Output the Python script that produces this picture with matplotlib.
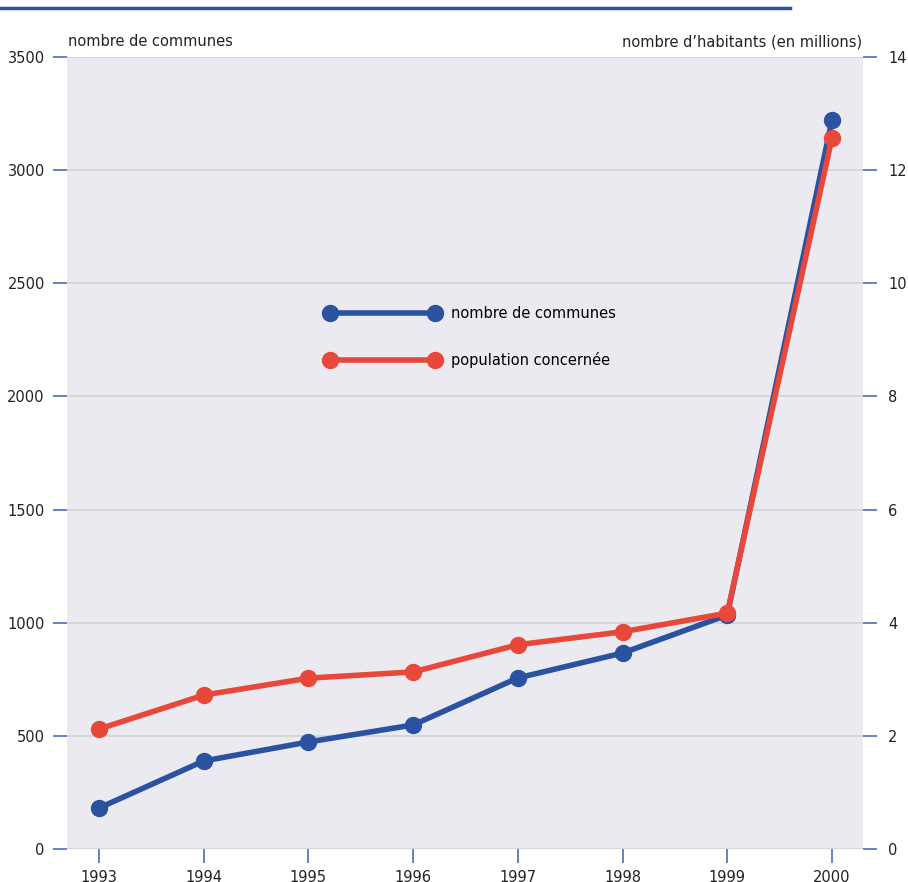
import matplotlib
matplotlib.use("Agg")
import matplotlib.pyplot as plt
from matplotlib.lines import Line2D

# data
years = [1993, 1994, 1995, 1996, 1997, 1998, 1999, 2000]
communes = [181, 389, 473, 548, 756, 866, 1034, 3221]
population = [2.12, 2.72, 3.02, 3.13, 3.61, 3.84, 4.17, 12.57]
left_ticks = [0, 500, 1000, 1500, 2000, 2500, 3000, 3500]
right_ticks = [0, 2, 4, 6, 8, 10, 12, 14]

BLUE = "#2a52a0"
RED = "#e8473a"
BG = "#ebeaf1"
GRID = "#d2d2d6"
TICK = "#4a6fb5"

plt.rcParams["font.family"] = ["Liberation Sans Narrow", "DejaVu Sans"]
fs = 10.5

fig = plt.figure(figsize=(9.08, 8.82), dpi=100)
W, H = 908, 882
ax = fig.add_axes([67 / W, 1 - 849 / H, (863 - 67) / W, (849 - 57) / H])
ax2 = ax.twinx()

ax.set_facecolor(BG)
ax.set_xlim(1992.695, 2000.296)
ax.set_ylim(0, 3500)
ax2.set_ylim(0, 14)

ax.set_yticks(left_ticks)
ax2.set_yticks(right_ticks)
ax.set_xticks(years)
ax.set_xticklabels([str(y) for y in years])
ax.grid(axis="y", color=GRID, linewidth=1.2)
ax.set_axisbelow(True)

for a in (ax, ax2):
    for s in a.spines.values():
        s.set_visible(False)
ax.tick_params(axis="both", direction="out", length=10, width=1.2, color=TICK,
               labelsize=fs, pad=6, labelcolor="#222222")
ax2.tick_params(axis="y", direction="out", length=10, width=1.2, color=TICK,
                labelsize=fs, pad=8, labelcolor="#222222")
ax.tick_params(axis="x", pad=5)

ax.plot(years, communes, color=BLUE, linewidth=4, marker="o", markersize=11.5,
        zorder=3, clip_on=False)
ax2.plot(years, population, color=RED, linewidth=4, marker="o", markersize=11.5,
         zorder=3, clip_on=False)

# legend
handles = [
    Line2D([0], [0], color=BLUE, linewidth=4, marker="o", markersize=11.5),
    Line2D([0], [0], color=RED, linewidth=4, marker="o", markersize=11.5),
]
fig.legend(handles, ["nombre de communes", "population concernée"],
           loc="upper left", bbox_to_anchor=(312 / W, 1 - 293 / H),
           frameon=False, numpoints=2, handlelength=7.8, fontsize=fs,
           labelspacing=2.1, handletextpad=0.85)

fig.text(68 / W, 1 - 42 / H, "nombre de communes", fontsize=fs,
         ha="left", va="center", color="#222222")
fig.text(862 / W, 1 - 42 / H, "nombre d\u2019habitants (en millions)", fontsize=fs,
         ha="right", va="center", color="#222222")

# top rule
fig.add_artist(Line2D([0, 790 / W], [1 - 8 / H, 1 - 8 / H], color=BLUE,
                      linewidth=2.5))

fig.savefig("out.png", dpi=100, facecolor="white")
